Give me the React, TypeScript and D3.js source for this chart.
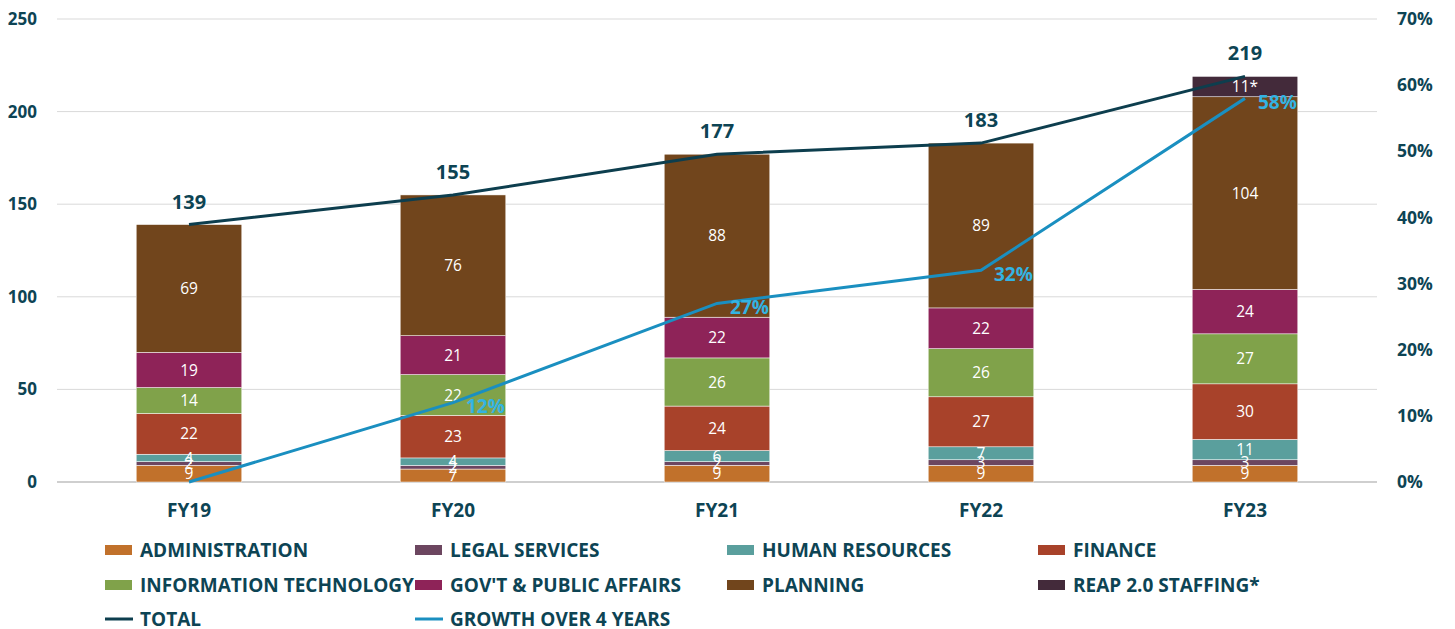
import React from "react";
import * as d3 from "d3";

const years = ["FY19", "FY20", "FY21", "FY22", "FY23"];
const seriesNames = [
  "ADMINISTRATION",
  "LEGAL SERVICES",
  "HUMAN RESOURCES",
  "FINANCE",
  "INFORMATION TECHNOLOGY",
  "GOV'T & PUBLIC AFFAIRS",
  "PLANNING",
  "REAP 2.0 STAFFING*",
];
const seriesColors = ["#c1712b", "#6c4660", "#5a9f9d", "#a8422a", "#80a24a", "#8e2358", "#71451c", "#432a3a"];
const administration = [9, 7, 9, 9, 9];
const legal = [2, 2, 2, 3, 3];
const hr = [4, 4, 6, 7, 11];
const finance = [22, 23, 24, 27, 30];
const it = [14, 22, 26, 26, 27];
const govt = [19, 21, 22, 22, 24];
const planning = [69, 76, 88, 89, 104];
const reap = [0, 0, 0, 0, 11];
const reapLabels = ["", "", "", "", "11*"];
const totals = [139, 155, 177, 183, 219];
const growth = [0, 12, 27, 32, 58];
const growthLabels = ["", "12%", "27%", "32%", "58%"];
const leftTicks = [0, 50, 100, 150, 200, 250];
const rightTicks = [0, 10, 20, 30, 40, 50, 60, 70];

const W = 1455, H = 629;
const left = 57, right = 1377, top = 19, bottom = 482;
const DARK = "#0d4454";

export default function App() {
  const x = d3.scaleBand().domain(years).range([left, right]).paddingInner(0.6).paddingOuter(0.3);
  const y = d3.scaleLinear().domain([0, 250]).range([bottom, top]);
  const y2 = d3.scaleLinear().domain([0, 70]).range([bottom, top]);
  const series = [administration, legal, hr, finance, it, govt, planning, reap];
  const rows = years.map((yr, i) => {
    const o: any = { year: yr };
    seriesNames.forEach((n, k) => (o[n] = series[k][i]));
    return o;
  });
  const stacked = d3.stack().keys(seriesNames)(rows);
  const cx = (yr: string) => (x(yr) as number) + x.bandwidth() / 2;
  const totalLine = d3.line<number>().x((_, i) => cx(years[i])).y((v) => y(v))(totals) as string;
  const growthLine = d3.line<number>().x((_, i) => cx(years[i])).y((v) => y2(v))(growth) as string;

  const legendCols = [105, 415, 727, 1038];
  const legendRows = [550, 585, 619];
  const legendItems: any[] = seriesNames.map((n, k) => ({ name: n, color: seriesColors[k], type: "rect" }));
  legendItems.push({ name: "TOTAL", color: "#0d3e4e", type: "line" });
  legendItems.push({ name: "GROWTH OVER 4 YEARS", color: "#1a8fc0", type: "line" });

  return (
    <svg width={W} height={H} style={{ position: "absolute", left: 0, top: 0 }} fontFamily="'Open Sans', sans-serif">
      {leftTicks.map((t) => (
        <g key={t}>
          {t > 0 && <line x1={left} x2={right} y1={y(t)} y2={y(t)} stroke="#d9d9d9" strokeWidth={1} />}
          <text x={37} y={y(t)} dy="0.35em" textAnchor="end" fontSize={17} fontWeight={700} fill={DARK}>{t}</text>
        </g>
      ))}
      {rightTicks.map((t) => (
        <text key={t} x={1397} y={y2(t)} dy="0.35em" textAnchor="start" fontSize={17.5} fontWeight={700} fill={DARK}>{t}%</text>
      ))}
      <line x1={left} x2={right} y1={bottom} y2={bottom} stroke="#bfbfbf" strokeWidth={1.5} />
      {stacked.map((s, k) => (
        <g key={s.key} fill={seriesColors[k]}>
          {s.map((d, i) =>
            d[1] - d[0] > 0 ? (
              <rect key={i} x={x(years[i])} y={y(d[1])} width={x.bandwidth()} height={y(d[0]) - y(d[1])} stroke="#ffffff" strokeWidth={0.5} />
            ) : null
          )}
        </g>
      ))}
      {stacked.map((s, k) => (
        <g key={s.key + "l"}>
          {s.map((d, i) =>
            d[1] - d[0] > 0 ? (
              <text key={i} x={cx(years[i])} y={(y(d[0]) + y(d[1])) / 2} dy="0.36em" textAnchor="middle" fontSize={15.5} fill="#ffffff">
                {k === 7 ? reapLabels[i] : d[1] - d[0]}
              </text>
            ) : null
          )}
        </g>
      ))}
      <path d={totalLine} fill="none" stroke="#0d3e4e" strokeWidth={3} />
      <path d={growthLine} fill="none" stroke="#1a8fc0" strokeWidth={3} />
      {totals.map((t, i) => (
        <text key={i} x={cx(years[i])} y={y(t) - 16} textAnchor="middle" fontSize={20} fontWeight={700} fill={DARK}>{t}</text>
      ))}
      {growth.map((g, i) => (
        <text key={i} x={cx(years[i]) + 13} y={y2(g)} dy="0.55em" textAnchor="start" fontSize={19} fontWeight={700} fill="#33b3e3">{growthLabels[i]}</text>
      ))}
      {years.map((yr) => (
        <text key={yr} x={cx(yr)} y={510} dy="0.35em" textAnchor="middle" fontSize={19} fontWeight={700} fill={DARK}>{yr}</text>
      ))}
      {legendItems.map((it2, idx) => {
        const col = idx < 8 ? idx % 4 : idx - 8;
        const row = idx < 8 ? Math.floor(idx / 4) : 2;
        const lx = legendCols[col];
        const ly = legendRows[row];
        return (
          <g key={it2.name}>
            {it2.type === "rect" ? (
              <rect x={lx} y={ly - 5} width={27} height={10} fill={it2.color} />
            ) : (
              <line x1={lx} x2={lx + 28} y1={ly} y2={ly} stroke={it2.color} strokeWidth={3} />
            )}
            <text x={lx + 35} y={ly} dy="0.35em" fontSize={19} fontWeight={700} fill={DARK}>{it2.name}</text>
          </g>
        );
      })}
    </svg>
  );
}
